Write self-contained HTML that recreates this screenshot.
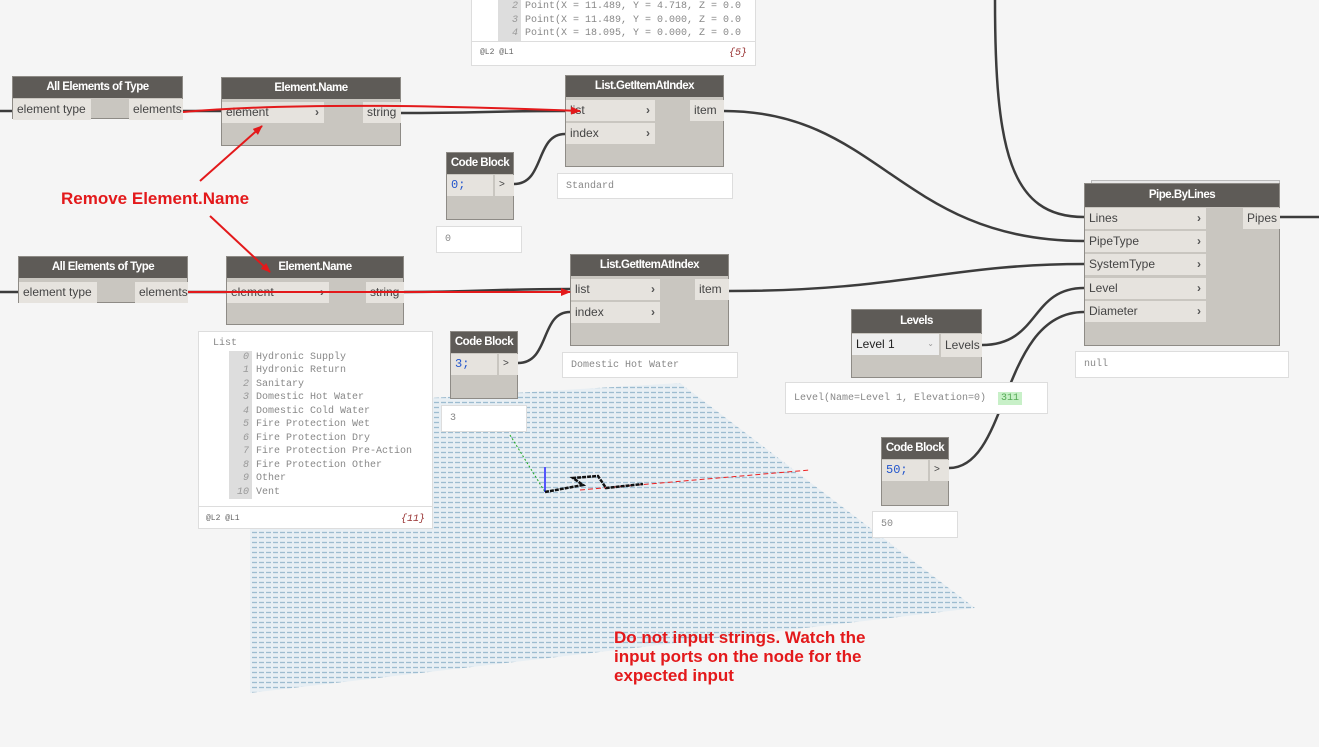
<!DOCTYPE html>
<html><head><meta charset="utf-8"><style>
body{margin:0;width:1319px;height:747px;background:#f5f5f5;position:relative;overflow:hidden;font-family:"Liberation Sans",sans-serif}
.n{position:absolute;background:#c9c6c0;border:1px solid #8e8b86;box-sizing:border-box}
.h{background:#5e5b57;color:#fff;font-weight:bold;font-size:11.5px;text-align:center;height:21px;line-height:21px;letter-spacing:-0.5px}
.p{position:absolute;background:#e6e3de;font-size:12px;color:#444;height:21px;line-height:20px;box-sizing:border-box;padding-left:4px;white-space:nowrap}
.p b{position:absolute;right:5px;top:0;font-weight:bold;color:#555}
.pv{position:absolute;background:#fff;border:1px solid #ddd;box-sizing:border-box;font-family:"Liberation Mono",monospace;font-size:10px;color:#888;padding:7px 8px}
svg{position:absolute;left:0;top:0}
.lst{font-family:"Liberation Mono",monospace;font-size:10px;color:#888;line-height:13.5px}
.ix{display:inline-block;background:#ddd;color:#999;width:20px;text-align:right;padding-right:3px;margin-right:4px;font-style:italic}
.red{position:absolute;color:#e3191b;font-weight:bold;font-size:17px}
</style></head><body>
<svg width="1319" height="747">
<defs><pattern id="g" width="7" height="5" patternUnits="userSpaceOnUse"><rect width="7" height="5" fill="#e8eff4"/><line x1="0" y1="2.5" x2="5" y2="2.5" stroke="#9dbcd0" stroke-width="1.3"/></pattern></defs>
<polygon points="430,398 680,383 975,608 250,693 250,520" fill="url(#g)"/>
<line x1="510" y1="435" x2="545" y2="492" stroke="#2a2" stroke-dasharray="2,2"/>
<line x1="545" y1="467" x2="545" y2="492" stroke="#22f" stroke-width="1.5"/>
<line x1="580" y1="490" x2="810" y2="470" stroke="#e22" stroke-dasharray="5,3"/>
<polyline points="545,492 583,485 573,478 598,476 606,488 643,484" fill="none" stroke="#111" stroke-width="2.5" stroke-dasharray="4,1"/>
<g fill="none" stroke="#3c3c3c" stroke-width="2.5">
<path d="M0 111 H12"/><path d="M183 111 H221"/><path d="M401 113 C480 113 490 111 565 111"/>
<path d="M514 184 C545 184 535 134 565 134"/>
<path d="M724 111 C880 111 900 241 1084 241"/>
<path d="M995 0 C995 150 1010 217 1084 217"/>
<path d="M729 291 C900 291 950 264 1084 264"/>
<path d="M982 345 C1040 345 1030 288 1084 288"/>
<path d="M949 468 C1010 468 1000 312 1084 312"/>
<path d="M1279 217 H1319"/>
<path d="M0 292 H18"/><path d="M188 292 H226"/><path d="M404 292 C480 292 490 289 570 289"/>
<path d="M518 363 C550 363 540 312 570 312"/>
</g>
</svg>
<div class="pv" style="left:471px;top:-5px;width:285px;height:71px;padding:0">
<div class="lst" style="position:absolute;left:26px;top:4px"><span class="ix">2</span>Point(X = 11.489, Y = 4.718, Z = 0.0<br><span class="ix">3</span>Point(X = 11.489, Y = 0.000, Z = 0.0<br><span class="ix">4</span>Point(X = 18.095, Y = 0.000, Z = 0.0</div>
<div style="position:absolute;left:0;right:0;top:45px;border-top:1px solid #ddd;font-size:8px;padding:6px 8px;color:#666">@L2 @L1<span style="float:right;color:#933;font-style:italic;font-size:10px">{5}</span></div></div>

<div class="n" style="left:12px;top:76px;width:171px;height:43px"><div class="h">All Elements of Type</div>
<div class="p" style="left:0;top:22px;width:78px">element type</div><div class="p" style="left:116px;top:22px;width:54px">elements</div></div>
<div class="n" style="left:221px;top:77px;width:180px;height:69px"><div class="h">Element.Name</div>
<div class="p" style="left:0;top:24px;width:102px">element<b>›</b></div><div class="p" style="left:141px;top:24px;width:38px">string</div></div>
<div class="n" style="left:565px;top:75px;width:159px;height:92px"><div class="h">List.GetItemAtIndex</div>
<div class="p" style="left:0;top:24px;width:89px">list<b>›</b></div><div class="p" style="left:0;top:47px;width:89px">index<b>›</b></div><div class="p" style="left:124px;top:24px;width:34px">item</div></div>
<div class="pv" style="left:557px;top:173px;width:176px;height:26px">Standard</div>
<div class="n" style="left:446px;top:152px;width:68px;height:68px"><div class="h">Code Block</div>
<div class="p" style="left:0;top:22px;width:46px;font-family:'Liberation Mono',monospace;color:#2255cc">0;</div><div class="p" style="left:48px;top:22px;width:19px;font-size:10px">&gt;</div></div>
<div class="pv" style="left:436px;top:226px;width:86px;height:27px">0</div>

<div class="n" style="left:18px;top:256px;width:170px;height:47px"><div class="h">All Elements of Type</div>
<div class="p" style="left:0;top:25px;width:78px">element type</div><div class="p" style="left:116px;top:25px;width:53px">elements</div></div>
<div class="n" style="left:226px;top:256px;width:178px;height:69px"><div class="h">Element.Name</div>
<div class="p" style="left:0;top:25px;width:102px">element<b>›</b></div><div class="p" style="left:139px;top:25px;width:38px">string</div></div>
<div class="n" style="left:570px;top:254px;width:159px;height:92px"><div class="h">List.GetItemAtIndex</div>
<div class="p" style="left:0;top:24px;width:89px">list<b>›</b></div><div class="p" style="left:0;top:47px;width:89px">index<b>›</b></div><div class="p" style="left:124px;top:24px;width:34px">item</div></div>
<div class="pv" style="left:562px;top:352px;width:176px;height:26px">Domestic Hot Water</div>
<div class="n" style="left:450px;top:331px;width:68px;height:68px"><div class="h">Code Block</div>
<div class="p" style="left:0;top:22px;width:46px;font-family:'Liberation Mono',monospace;color:#2255cc">3;</div><div class="p" style="left:48px;top:22px;width:19px;font-size:10px">&gt;</div></div>
<div class="pv" style="left:441px;top:405px;width:86px;height:27px">3</div>

<div class="pv" style="left:198px;top:331px;width:235px;height:198px;padding:0">
<div class="lst" style="position:absolute;left:14px;top:5px">List<br>
<div style="padding-left:16px"><span class="ix">0</span>Hydronic Supply<br><span class="ix">1</span>Hydronic Return<br><span class="ix">2</span>Sanitary<br><span class="ix">3</span>Domestic Hot Water<br><span class="ix">4</span>Domestic Cold Water<br><span class="ix">5</span>Fire Protection Wet<br><span class="ix">6</span>Fire Protection Dry<br><span class="ix">7</span>Fire Protection Pre-Action<br><span class="ix">8</span>Fire Protection Other<br><span class="ix">9</span>Other<br><span class="ix">10</span>Vent</div></div>
<div style="position:absolute;left:0;right:0;top:174px;border-top:1px solid #ddd;font-size:8px;padding:7px 7px;color:#666">@L2 @L1<span style="float:right;color:#933;font-style:italic;font-size:10px">{11}</span></div></div>

<div class="n" style="left:851px;top:309px;width:131px;height:69px"><div class="h" style="height:23px;line-height:23px">Levels</div>
<div class="p" style="left:0;top:24px;width:87px;background:#eee;color:#222">Level 1<span style="position:absolute;right:5px;font-size:8px;color:#999">⌄</span></div><div class="p" style="left:89px;top:24px;width:41px;height:23px;line-height:23px">Levels</div></div>
<div class="pv" style="left:785px;top:382px;width:263px;height:32px;padding-top:10px">Level(Name=Level 1, Elevation=0) <span style="background:#c8f0c8;color:#5a5;padding:1px 3px;margin-left:6px">311</span></div>
<div class="n" style="left:881px;top:437px;width:68px;height:69px"><div class="h">Code Block</div>
<div class="p" style="left:0;top:22px;width:46px;font-family:'Liberation Mono',monospace;color:#2255cc">50;</div><div class="p" style="left:48px;top:22px;width:19px;font-size:10px">&gt;</div></div>
<div class="pv" style="left:872px;top:511px;width:86px;height:27px">50</div>

<div style="position:absolute;left:1091px;top:180px;width:187px;height:4px;border:1px solid #bbb;border-bottom:none;background:#e8e8e8"></div>
<div class="n" style="left:1084px;top:183px;width:196px;height:163px"><div class="h" style="height:23px;line-height:23px">Pipe.ByLines</div>
<div class="p" style="left:0;top:24px;width:121px">Lines<b>›</b></div>
<div class="p" style="left:0;top:47px;width:121px">PipeType<b>›</b></div>
<div class="p" style="left:0;top:70px;width:121px">SystemType<b>›</b></div>
<div class="p" style="left:0;top:94px;width:121px">Level<b>›</b></div>
<div class="p" style="left:0;top:117px;width:121px">Diameter<b>›</b></div>
<div class="p" style="left:158px;top:24px;width:37px">Pipes</div></div>
<div class="pv" style="left:1075px;top:351px;width:214px;height:27px">null</div>

<svg width="1319" height="747">
<defs><marker id="a" markerWidth="10" markerHeight="8" refX="9" refY="4" orient="auto" markerUnits="userSpaceOnUse"><path d="M0 0 L10 4 L0 8 Z" fill="#e3191b"/></marker></defs>
<g stroke="#e3191b" stroke-width="2" fill="none" marker-end="url(#a)">
<path d="M183 112 C300 102 450 106 580 111"/>
<path d="M188 292 H570"/>
<path d="M200 181 L262 126"/>
<path d="M210 216 L270 272"/>
</g></svg>
<div class="red" style="left:61px;top:189px">Remove Element.Name</div>
<div class="red" style="left:614px;top:628px;line-height:19px">Do not input strings. Watch the<br>input ports on the node for the<br>expected input</div>
</body></html>
